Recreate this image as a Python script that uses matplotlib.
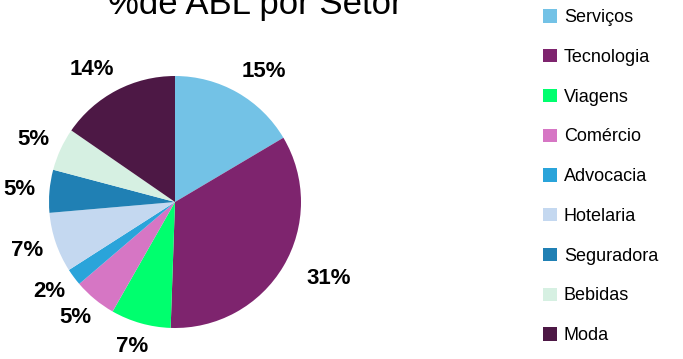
import matplotlib
matplotlib.use('Agg')
import matplotlib.pyplot as plt
import numpy as np
from matplotlib.patches import Patch

plt.rcParams['font.family'] = ['Liberation Sans', 'DejaVu Sans']

setores = ['Serviços', 'Tecnologia', 'Viagens', 'Comércio', 'Advocacia',
           'Hotelaria', 'Seguradora', 'Bebidas', 'Moda']
valores = [15, 31, 7, 5, 2, 7, 5, 5, 14]
cores = ['#73C2E6', '#7E246E', '#00FF6E', '#D676C4', '#2AA4DA',
         '#C4D8F0', '#2080B4', '#D6F0E2', '#4D1845']

W, H = 683, 359
fig = plt.figure(figsize=(W / 100, H / 100), dpi=100)

# pie centre ~ (175, 202) px, radius ~126 px
cx, cy, r = 175, 202, 126
ax = fig.add_axes([(cx - r) / W, (H - cy - r) / H, 2 * r / W, 2 * r / H])

labels = ['%d%%' % v for v in valores]
wedges, texts = ax.pie(valores, colors=cores, startangle=90, counterclock=False,
                       labels=labels, labeldistance=1.25,
                       textprops=dict(fontsize=16, fontweight='bold', color='black'))
# labels sit on an ellipse round the pie, wider labels pushed further sideways
for w, t in zip(wedges, texts):
    ang = np.deg2rad((w.theta1 + w.theta2) / 2)
    rx = 1.24 if len(t.get_text()) == 2 else 1.42
    ry = 1.19
    t.set_position((rx * np.cos(ang), ry * np.sin(ang)))
    t.set_ha('center')
    t.set_va('center')
    t.set_clip_on(False)
ax.set_xlim(-1, 1)
ax.set_ylim(-1, 1)
ax.set_aspect('equal')

# title is cut at the top edge as in the original
fig.text(255 / W, (H - 14) / H, '%de ABL por Setor', fontsize=25,
         ha='center', va='baseline')

handles = [Patch(facecolor=c, edgecolor='none') for c in cores]
fig.legend(handles, setores, loc='upper left', bbox_to_anchor=(536 / W, 1 - 2 / H),
           frameon=False, fontsize=13, handlelength=0.75, handleheight=0.75,
           handletextpad=0.4, labelspacing=1.26, borderaxespad=0)

fig.savefig('out.png', dpi=100)
